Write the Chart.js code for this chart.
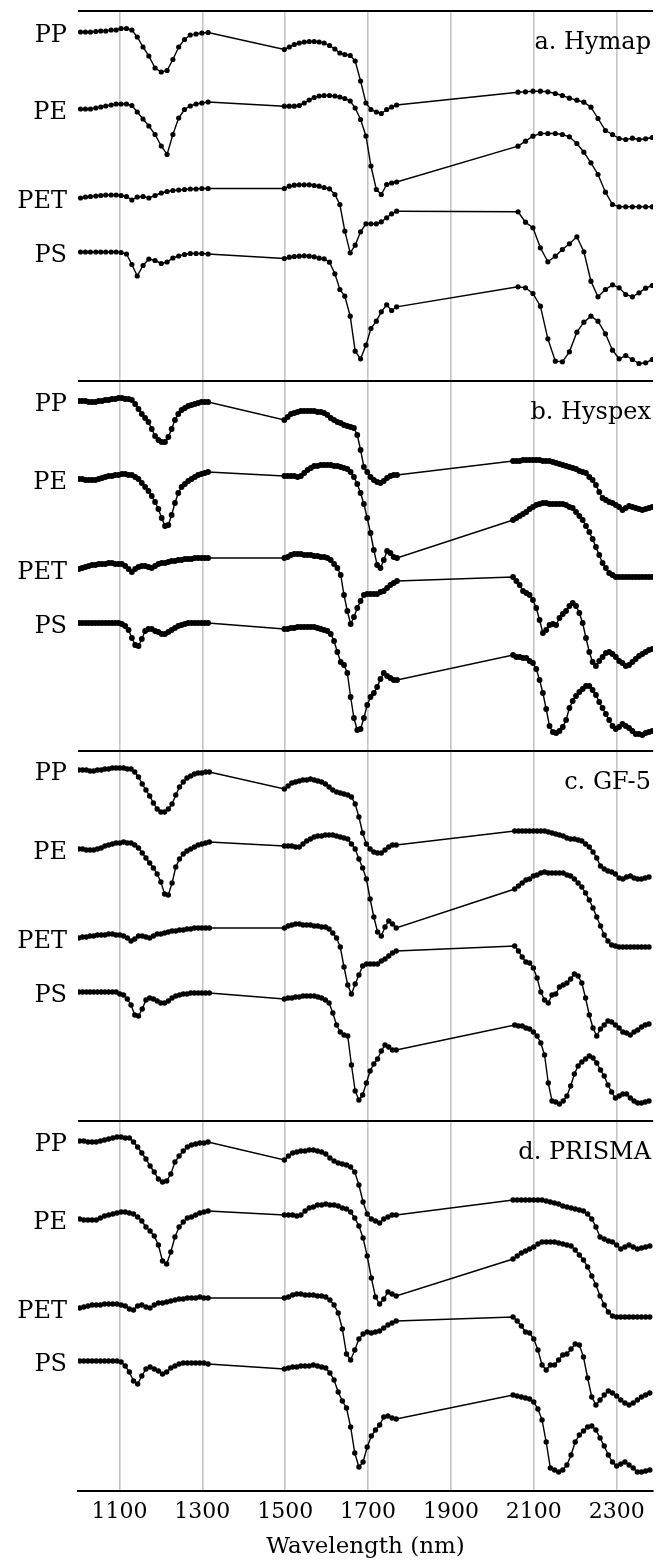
<!DOCTYPE html>
<html>
<head>
<meta charset="utf-8">
<script src="https://cdn.jsdelivr.net/npm/chart.js@4.4.1/dist/chart.umd.min.js"></script>
<style>
  html, body { margin: 0; background: #fff; }
  canvas { display: block; }
</style>
</head>
<body>
<canvas id="canvas" width="656" height="1562"></canvas>
<script>
// categories / labels
var panelNames = ['a. Hymap', 'b. Hyspex', 'c. GF-5', 'd. PRISMA'];
var materials = ['PP', 'PE', 'PET', 'PS'];
var xTicks = [1100, 1300, 1500, 1700, 1900, 2100, 2300];
var panelSpan = 370; // offset reflectance units per panel

// Hymap band centres (nm) and offset spectra
var hymapWl = [1006,1018,1030,1043,1055,1067,1080,1092,1104,1117,1130,1143,1157,1171,1186,1201,1215,1229,1243,1257,1271,1285,1299,1314,
  1498,1510,1522,1534,1546,1558,1570,1582,1594,1607,1620,1632,1644,1657,1669,1682,1695,1707,1720,1732,1745,1757,1769,
  2062,2080,2098,2116,2134,2152,2169,2186,2204,2221,2238,2255,2273,2290,2306,2322,2338,2354,2370,2386];
var hymapPP = [349,349,349,349.5,350,350,351,351,352.5,352.5,351,344,334,325,313,309,310.5,321.5,334,341.5,346,347,348,348.5,
  331.5,334,336.5,338,339,339.5,339.5,339,338,335.5,332,328,326.5,325.5,320,300,278,271.5,269,267.5,271.5,274,276,
  288.8,289.2,289.8,289.8,289.2,287.5,285.5,282.8,280.8,278.8,273.8,262.5,250.5,246.5,242.5,241.5,242.8,241.5,242.2,243.5];
var hymapPE = [272,272,272,273,274,275,276,277,277,277,275.5,269,262,255,246.5,235,226.5,246.5,263,271.5,275,277,278,279,
  274.8,274.8,274.8,275.5,278,281,283.5,285,285.5,285.5,285,284,282.5,280,273,261.5,245,215,191.5,186.5,196.5,198,199,
  234.8,239.8,244.8,247.5,247.5,247.5,246.5,244.2,237.5,228.8,218.2,206.5,188.8,176.5,174.2,174.2,174.2,174.2,174.2,174.2];
var hymapPET = [183,184,184.5,185,185.5,186,186,186,185.5,184.5,181,184,184.5,183,185.5,188,189.5,190.5,191,191.5,192,192,192.5,192.5,
  192.5,194.8,195.8,196.2,196.2,196.2,195.5,194.8,193.5,192.2,186.5,176.5,149.8,128.2,135.8,149.2,157.2,157.2,157.2,159.2,163.2,167.2,169.8,
  169.2,158.8,153.2,133.2,119.2,124.8,131.5,137.2,144.2,129.2,99.8,84.2,91.5,96.2,93.2,86.5,84.2,88.2,92.8,95.5];
var hymapPS = [129,129,129,129,129,129,129,129,128.5,127,116.5,105,115.5,122,120.5,117.5,119,123,125,126.5,127.5,127.5,127.5,127,
  122.5,123.8,124.5,124.8,125.2,124.8,124.2,122.8,122.2,118.8,107.2,91.5,84.8,64.8,29.8,22.2,35.8,52.5,59.8,69.2,76.2,70.5,74.2,
  94.2,93.2,87.5,74.8,42.2,19.8,19.2,29.2,48.8,58.8,64.8,59.8,47.2,30.8,22.2,25.5,21.5,17.5,18.2,21.5];

// Hyspex
var hyspexWl = [1002,1010,1018,1026,1034,1042,1050,1058,1066,1074,1082,1090,1098,1106,1114,1122,1130,1138,1146,1154,1162,1170,1178,1186,1194,1202,1210,1218,1226,1234,1242,1250,1258,1266,1274,1282,1290,1298,1306,1314,
  1498,1506,1514,1522,1530,1538,1546,1554,1562,1570,1578,1586,1594,1602,1610,1618,1626,1634,1642,1650,1658,1666,1674,1682,1690,1698,1706,1714,1722,1730,1738,1746,1754,1762,1770,
  2050,2058,2066,2074,2082,2090,2098,2106,2114,2122,2130,2138,2146,2154,2162,2170,2178,2186,2194,2202,2210,2218,2226,2234,2242,2250,2258,2266,2274,2282,2290,2298,2306,2314,2322,2330,2338,2346,2354,2362,2370,2378,2386];
var hyspexPP = [350,350,350,349,349,349,350,350,351,351,352,352,353,353,352,352,351,347,342,337,333,329,322,315,311,309,309,314,322,331,337,341,343,345,346,347,348,349,349,349,
  331,334,337,338,339,340,340,340,340,340,339,339,338,336,333,331,329,328,326,325,324,323,316,301,284,279,274,271,269,268,270,273,275,276,276,
  290,290,290,291,291,291,291,291,291,290,290,290,289,288,287,286,285,284,283,282,280,279,278,274,271,266,259,253,251,249,248,246,244,241,243,245,244,243,242,241,242,243,244];
var hyspexPE = [272,272,271,271,271,271,272,273,274,275,275,276,276,277,277,276,276,274,272,268,264,260,255,249,242,233,225,226,236,248,258,264,267,270,272,274,276,277,278,279,
  275,275,275,275,274,275,278,281,283,285,285,286,286,286,286,285,285,284,283,282,279,274,267,258,247,233,218,201,186,183,191,200,198,194,193,
  231,233,235,237,239,242,244,246,247,248,248,247,247,247,247,247,246,244,243,239,235,231,225,219,212,204,196,188,183,178,176,174,174,174,174,174,174,174,174,174,174,174,174];
var hyspexPET = [182,183,184,185,186,186,187,187,187,188,188,187,187,187,185,182,179,182,184,185,185,184,183,185,187,188,188,189,190,190,191,191,192,192,192,193,193,193,193,193,
  193,194,196,197,197,197,196,196,196,195,195,194,194,193,191,187,183,176,156,140,127,134,143,150,156,157,157,157,157,159,160,163,166,168,170,
  174,170,166,160,158,156,151,143,131,118,121,126,127,126,133,137,140,145,148,145,138,128,113,99,89,85,90,94,98,99,97,94,90,88,85,86,89,92,95,97,99,101,102];
var hyspexPS = [128,128,128,128,128,128,128,128,128,128,128,128,128,127,125,121,113,106,105,112,120,122,122,120,119,117,117,119,121,123,125,126,127,128,128,128,128,128,128,128,
  122,122,123,123,124,124,124,124,124,124,123,122,121,120,117,110,99,89,86,78,54,33,21,22,33,46,54,58,64,72,78,75,73,71,71,
  96,94,94,93,93,90,88,82,71,58,42,25,19,18,20,24,31,43,50,55,59,62,65,65,61,56,49,43,37,31,25,22,24,27,25,23,20,17,17,16,18,19,20];

// GF-5
var gf5Wl = [1002,1011,1020,1029,1038,1047,1056,1065,1074,1083,1092,1101,1110,1119,1128,1137,1146,1155,1164,1173,1182,1191,1200,1209,1218,1227,1236,1245,1254,1263,1272,1281,1290,1299,1308,1317,
  1498,1507,1516,1525,1534,1543,1552,1561,1570,1579,1588,1597,1606,1615,1624,1633,1642,1651,1660,1669,1678,1687,1696,1705,1714,1723,1732,1741,1750,1759,1768,
  2054,2063,2072,2081,2090,2099,2108,2117,2126,2135,2144,2153,2162,2171,2180,2189,2198,2207,2216,2225,2234,2243,2252,2261,2270,2279,2288,2297,2306,2315,2324,2333,2342,2351,2360,2369,2378];
var gf5PP = [351,351,351,350,350,351,351,352,352,353,353,353,353,352,352,349,344,337,331,325,318,312,309,309,312,317,326,334,339,343,345,347,348,348,349,349,
  332,335,338,339,340,341,341,342,341,340,339,337,334,331,329,328,327,326,324,317,304,288,277,272,269,268,268,271,274,276,276,
  290,290,290,290,290,290,290,290,290,289,288,287,286,285,283,282,282,281,280,277,274,269,263,255,252,250,249,247,243,242,244,245,243,242,242,243,244];
var gf5PE = [272,272,271,271,271,272,273,275,276,277,278,278,279,278,278,276,273,268,263,258,253,247,239,227,226,238,254,262,267,270,272,274,276,277,278,279,
  275,275,275,274,274,277,280,282,284,285,285,286,286,286,285,284,283,282,277,272,262,253,242,222,204,189,185,194,200,197,193,
  232,235,238,241,242,245,246,248,249,248,248,248,248,248,246,245,242,238,234,228,221,213,204,195,186,180,176,175,174,174,174,174,174,174,174,174,174];
var gf5PET = [183,184,184,185,185,186,186,186,187,187,186,186,185,183,180,182,185,185,184,183,185,187,187,188,189,190,190,191,191,192,192,193,193,193,193,193,
  193,195,196,197,197,196,196,196,195,195,194,194,192,188,183,174,154,136,127,137,146,155,157,157,157,157,160,162,165,168,170,
  175,170,164,159,158,153,143,129,121,118,126,127,134,136,138,142,147,145,138,123,106,93,85,92,96,100,99,96,93,89,88,86,89,91,94,96,97];
var gf5PS = [129,129,129,129,129,129,129,129,129,129,129,127,126,122,116,106,105,112,121,123,122,120,118,118,120,123,125,126,127,127,128,128,128,128,128,128,
  122,123,123,124,124,125,125,125,125,124,123,121,118,108,96,89,86,85,56,30,21,26,38,50,57,62,70,76,74,71,71,
  96,95,95,93,92,89,85,78,66,38,20,19,17,20,25,35,47,55,59,62,65,63,58,51,45,36,29,23,25,27,27,23,20,18,18,19,20];

// PRISMA
var prismaWl = [1004,1014,1024,1034,1044,1054,1064,1074,1084,1094,1104,1114,1124,1134,1144,1154,1164,1174,1184,1194,1204,1214,1224,1234,1244,1254,1264,1274,1284,1294,1304,1314,
  1498,1508,1518,1528,1538,1548,1558,1568,1578,1588,1598,1608,1618,1628,1638,1648,1658,1668,1678,1688,1698,1708,1718,1728,1738,1748,1758,1768,
  2050,2060,2070,2080,2090,2100,2110,2120,2130,2140,2150,2160,2170,2180,2190,2200,2210,2220,2230,2240,2250,2260,2270,2280,2290,2300,2310,2320,2330,2340,2350,2360,2370,2380];
var prismaPP = [350,350,349,349,349,350,351,352,353,354,354,353,353,349,344,338,332,325,319,312,309,310,317,329,335,340,344,346,347,348,348,349,
  331,335,338,339,340,340,341,341,340,339,337,333,330,328,327,326,324,319,306,289,277,272,270,268,272,274,276,276,
  291,291,291,291,291,291,291,291,290,289,288,287,285,284,283,282,281,280,277,272,264,254,252,250,249,246,242,244,246,244,242,243,244,245];
var prismaPE = [272,271,271,271,271,273,275,276,277,278,279,279,278,277,274,270,264,260,255,246,230,227,239,254,264,269,273,274,276,278,279,280,
  276,276,276,275,276,280,283,284,286,286,287,286,286,285,283,282,279,273,265,253,235,213,194,187,192,199,197,195,
  232,235,238,240,242,244,247,249,249,249,249,248,247,246,245,241,236,231,224,215,206,195,186,179,175,174,174,174,174,174,174,174,174,174];
var prismaPET = [183,184,185,186,186,186,187,187,187,187,186,185,182,181,185,186,184,183,186,188,188,189,190,191,192,192,193,193,193,194,193,193,
  193,194,196,197,197,196,196,196,195,195,194,191,186,178,162,137,131,141,152,157,159,158,159,160,163,166,168,170,
  174,170,165,159,158,152,141,126,121,126,126,131,136,137,142,147,146,134,113,94,86,91,96,100,98,95,91,88,86,88,91,94,96,98];
var prismaPS = [130,130,130,130,130,130,130,130,130,130,129,125,119,110,107,115,122,124,122,120,117,119,123,125,127,128,128,128,128,128,128,127,
  122,123,124,124,125,125,125,126,125,124,123,118,111,99,90,83,64,38,24,29,44,55,61,66,74,75,73,72,
  96,95,94,93,92,89,82,71,49,23,21,19,21,26,36,49,56,60,64,65,61,53,45,36,29,25,27,29,26,23,19,19,20,21];

var sensors = [
  { wl: hymapWl, spectra: [hymapPP, hymapPE, hymapPET, hymapPS], dot: 2.6 },
  { wl: hyspexWl, spectra: [hyspexPP, hyspexPE, hyspexPET, hyspexPS], dot: 2.9 },
  { wl: gf5Wl, spectra: [gf5PP, gf5PE, gf5PET, gf5PS], dot: 2.7 },
  { wl: prismaWl, spectra: [prismaPP, prismaPE, prismaPET, prismaPS], dot: 2.7 }
];

var serif = '"DejaVu Serif", "Liberation Serif", serif';

// each panel is shifted up by its position in the stack
var buildDatasets = function() {
  var out = [];
  sensors.forEach(function(s, p) {
    var offset = (sensors.length - 1 - p) * panelSpan;
    s.spectra.forEach(function(vals, m) {
      out.push({
        label: panelNames[p] + ' ' + materials[m],
        data: s.wl.map(function(w, i) { return { x: w, y: vals[i] + offset }; }),
        borderColor: '#000',
        backgroundColor: '#000',
        borderWidth: 1.4,
        pointRadius: s.dot,
        pointBorderWidth: 0,
        pointHoverRadius: s.dot,
        tension: 0,
        panel: p,
        material: m
      });
    });
  });
  return out;
};

// material names left of each curve and sensor name at top right of each panel
var panelText = {
  id: 'panelText',
  afterDatasetsDraw: function(chart) {
    var ctx = chart.ctx;
    var yScale = chart.scales.y;
    ctx.save();
    ctx.fillStyle = '#000';
    ctx.font = '24px ' + serif;
    ctx.textBaseline = 'alphabetic';
    ctx.textAlign = 'right';
    chart.data.datasets.forEach(function(ds, i) {
      var first = chart.getDatasetMeta(i).data[0];
      ctx.fillText(materials[ds.material], 67, first.y + 9.5);
    });
    panelNames.forEach(function(name, p) {
      var top = yScale.getPixelForValue((sensors.length - p) * panelSpan);
      ctx.fillText(name, 651, top + 38);
    });
    ctx.restore();
  }
};

var ctx = document.getElementById('canvas').getContext('2d');
window.spectraChart = new Chart(ctx, {
  type: 'line',
  data: { datasets: buildDatasets() },
  plugins: [panelText],
  options: {
    responsive: false,
    animation: false,
    devicePixelRatio: 1,
    events: [],
    layout: { padding: { left: 78, right: 0, top: 11, bottom: 1 } },
    plugins: {
      legend: { display: false },
      tooltip: { enabled: false }
    },
    scales: {
      x: {
        type: 'linear',
        min: 1000,
        max: 2388,
        afterBuildTicks: function(axis) {
          axis.ticks = xTicks.map(function(v) { return { value: v }; });
        },
        grid: { color: '#c4c4c4', lineWidth: 1.6, drawTicks: false },
        border: { color: '#000', width: 2 },
        ticks: {
          color: '#000',
          padding: 8,
          maxRotation: 0,
          autoSkip: false,
          font: { family: serif, size: 22 },
          callback: function(v) { return String(v); }
        },
        title: {
          display: true,
          text: 'Wavelength (nm)',
          color: '#000',
          padding: { top: 0, bottom: 0 },
          font: { family: serif, size: 23 }
        }
      },
      y: {
        type: 'linear',
        min: 0,
        max: panelSpan * sensors.length,
        afterBuildTicks: function(axis) {
          axis.ticks = [1, 2, 3, 4].map(function(k) { return { value: k * panelSpan }; });
        },
        grid: { color: '#000', lineWidth: 2, drawTicks: false },
        border: { display: false },
        ticks: { display: false }
      }
    }
  }
});
</script>
</body>
</html>
